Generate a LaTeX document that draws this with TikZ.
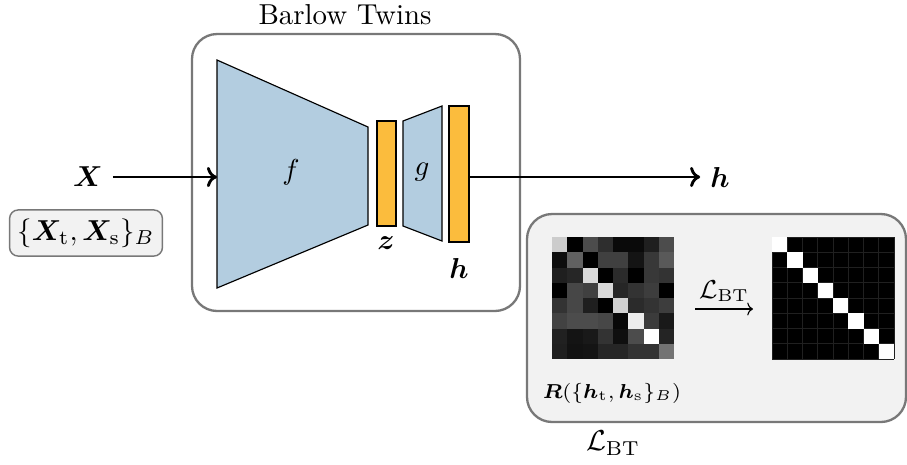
\documentclass[tikz,border=0pt]{standalone}
\usepackage{amsmath,bm}
\usetikzlibrary{arrows.meta}
\definecolor{encblue}{RGB}{179,205,224}
\definecolor{barorange}{RGB}{251,188,61}
\definecolor{boxgray}{RGB}{242,242,242}
\definecolor{edgegray}{RGB}{120,120,120}
\begin{document}
\begin{tikzpicture}[x=0.3467pt,y=-0.3467pt,
  encoder/.style={fill=encblue,draw=black,line width=0.4pt},
  featbar/.style={fill=barorange,draw=black,line width=0.4pt},
  frame/.style={draw=edgegray,line width=0.8pt,rounded corners=8.7pt},
  flow/.style={line width=1pt,-{To[length=3.5pt,width=7pt]}},
  smallbox/.style={fill=boxgray,draw=edgegray,line width=0.5pt,rounded corners=3pt,
    minimum width=53pt,minimum height=16pt,inner sep=2pt},
  cellgrid/.style={draw=gray!25!black,line width=0.2pt}]
\useasboundingbox (0,0) rectangle (907,464);
\fill[white] (0,0) rectangle (907,464);

% Barlow Twins frame
\node (title) at (345,15) {Barlow Twins};
\draw[frame,fill=white] (192,34) rectangle (520,311);

% encoder f
\draw[encoder] (217,60) -- (368,127) -- (368,225) -- (217,288) -- cycle;
\node (fl) at (291,172) {$f$};
% z bar
\draw[featbar] (377,121) rectangle (396,226);
\node (zl) at (386,243) {$\bm{z}$};
% projector g
\draw[encoder] (403,121) -- (442,106) -- (442,241) -- (403,226) -- cycle;
\node (gl) at (422,172) {$g$};
% h bar
\draw[featbar] (449,106) rectangle (469,242);
\node (hbl) at (459,268) {$\bm{h}$};

% input / output
\node (X) at (88,177) {$\bm{X}$};
\coordinate (fin) at (217,177);
\draw[flow] (X) -- (fin);
\node[smallbox] (batch) at (86,233) {$\{\bm{X}_\mathrm{t},\bm{X}_\mathrm{s}\}_B$};
\coordinate (hsrc) at (469,177);
\node (hout) at (720,177) {$\bm{h}$};
\draw[flow] (hsrc) -- (hout);

% loss box
\draw[frame,fill=boxgray] (527,214) rectangle (906,422);

% cross-correlation matrix
\foreach \row [count=\i] in {
  {80,0,30,18,4,4,12,30},
  {5,38,0,25,25,8,22,35},
  {12,15,85,0,17,0,22,20},
  {0,28,25,85,15,20,24,0},
  {20,28,12,0,82,17,20,24},
  {26,30,30,28,3,93,23,10},
  {13,8,10,20,6,30,100,14},
  {12,7,8,15,15,20,20,45}}{
  \foreach \v [count=\j] in \row {
    \fill[white!\v!black] ({552+(\j-1)*15.25},{237+(\i-1)*15.25}) rectangle ++(15.3,15.3);
  }
}

% identity target
\fill[black] (772,237) rectangle (894,359);
\foreach \k in {0,...,8}{
  \draw[cellgrid] ({772+\k*15.25},237) -- ({772+\k*15.25},359);
  \draw[cellgrid] (772,{237+\k*15.25}) -- (894,{237+\k*15.25});
}
\foreach \k in {0,...,7}{
  \fill[white] ({772+\k*15.25},{237+\k*15.25}) rectangle ++(15.25,15.25);
}

% arrow between matrices
\coordinate (a1) at (695,309);
\coordinate (a2) at (753,309);
\draw[line width=0.4pt,-{To[length=2pt,width=4.5pt]}] (a1) -- (a2)
  node[midway,above=-1pt,font=\small] (arl) {$\mathcal{L}_\mathrm{BT}$};

\node[font=\scriptsize] (Rl) at (612,393) {$\bm{R}(\{\bm{h}_\mathrm{t},\bm{h}_\mathrm{s}\}_B)$};
\node (Lb) at (613,443) {$\mathcal{L}_\mathrm{BT}$};
\end{tikzpicture}
\end{document}
